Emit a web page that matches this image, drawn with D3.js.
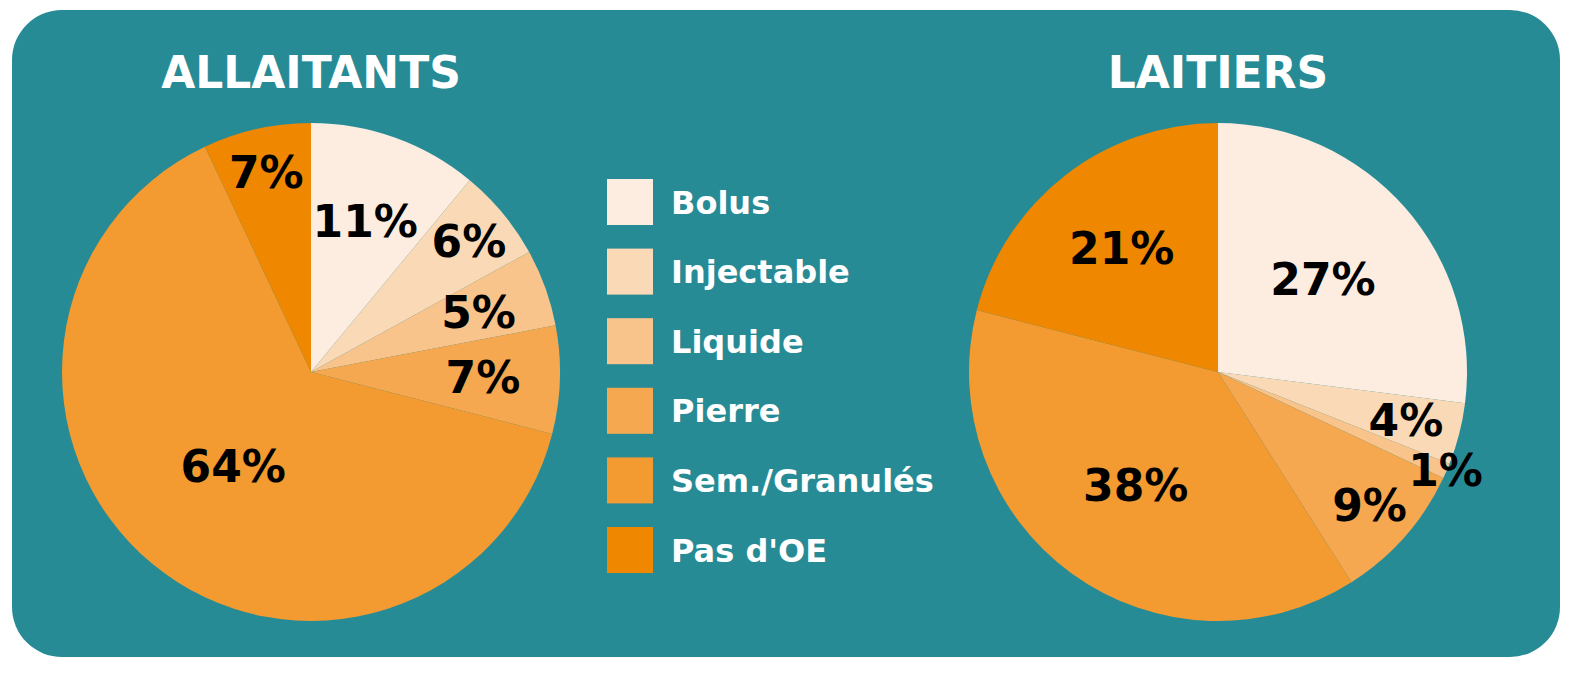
<!DOCTYPE html>
<head>
  <meta charset="utf-8">
  <script src="https://d3js.org/d3.v7.min.js"></script>
  <style>
    body { margin: 0; background: #fff; }
    svg { width: 1591px; height: 673px; display: block; }
    text { font-family: "DejaVu Sans", Verdana, sans-serif; font-weight: bold; }
  </style>
</head>
<body>
  <svg></svg>
  <script>
    const categories = ['Bolus', 'Injectable', 'Liquide', 'Pierre', 'Sem./Granulés', "Pas d'OE"];
    const colors = ['#fcede0', '#fad9b6', '#f8c48b', '#f5a84f', '#f39a30', '#ef8800'];
    const allaitants = [11, 6, 5, 7, 64, 7];
    const laitiers = [27, 4, 1, 9, 38, 21];
    // label distance from centre, per slice
    const allaitantsLabelR = [160, 205, 178, 172, 122, 205];
    const laitiersLabelR = [140, 194, 248, 202, 140, 157];

    const svg = d3.select('svg');
    svg.append('rect')
      .attr('x', 12).attr('y', 10).attr('width', 1548).attr('height', 647)
      .attr('rx', 50).attr('fill', '#278b96');

    const pie = d3.pie().sort(null).value(d => d);
    const arc = d3.arc().innerRadius(0).outerRadius(249);

    function drawPie(cx, title, values, labelR) {
      const g = svg.append('g').attr('transform', `translate(${cx},372)`);
      const arcs = pie(values);
      g.selectAll('path').data(arcs).enter().append('path')
        .attr('d', arc)
        .attr('fill', (d, i) => colors[i]);
      g.selectAll('text.lbl').data(arcs).enter().append('text')
        .attr('class', 'lbl')
        .attr('transform', (d, i) => {
          const a = (d.startAngle + d.endAngle) / 2;
          return `translate(${Math.sin(a) * labelR[i]},${-Math.cos(a) * labelR[i]})`;
        })
        .attr('text-anchor', 'middle').attr('dy', '0.36em')
        .attr('font-size', 44).attr('fill', '#000')
        .text(d => d.data + '%');
      svg.append('text')
        .attr('x', cx).attr('y', 88).attr('text-anchor', 'middle')
        .attr('font-size', 44).attr('fill', '#fff')
        .text(title);
    }

    drawPie(311, 'ALLAITANTS', allaitants, allaitantsLabelR);
    drawPie(1218, 'LAITIERS', laitiers, laitiersLabelR);

    const y = d3.scalePoint().domain(categories).range([202, 550]);
    const leg = svg.append('g');
    leg.selectAll('rect').data(categories).enter().append('rect')
      .attr('x', 607).attr('y', d => y(d) - 23)
      .attr('width', 46).attr('height', 46)
      .attr('fill', (d, i) => colors[i]);
    leg.selectAll('text').data(categories).enter().append('text')
      .attr('x', 671).attr('y', d => y(d)).attr('dy', '0.36em')
      .attr('font-size', 32).attr('fill', '#fff')
      .text(d => d);
  </script>
</body>
